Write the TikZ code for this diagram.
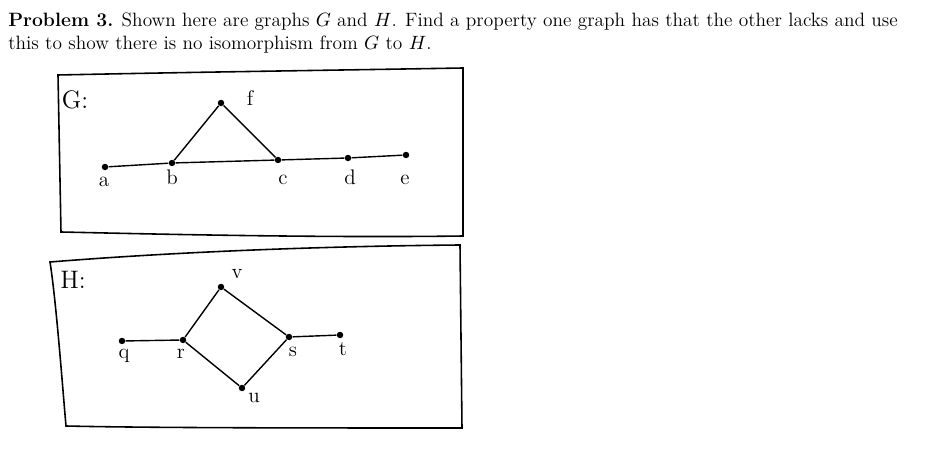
\documentclass[tikz,border=0pt]{standalone}
\begin{document}
\begin{tikzpicture}[x=0.02cm,y=-0.02cm,
 v/.style={circle,fill=black,inner sep=1.3pt},
 lab/.style={font=\large},
 edge/.style={line width=0.8pt},
 frame/.style={line width=0.9pt}]
\useasboundingbox (0,0) rectangle (938,455);
\node[anchor=west,inner sep=0] (t1) at (8,22) {\fontsize{11pt}{13pt}\selectfont\textbf{Problem 3.} Shown here are graphs $G$ and $H$. Find a property one graph has that the other lacks and use};
\node[anchor=west,inner sep=0] (t2) at (8,45) {\fontsize{11pt}{13pt}\selectfont this to show there is no isomorphism from $G$ to $H$.};
% G frame
\draw[frame] (58,75) .. controls (200,72) and (350,70) .. (463,68) -- (463,236) .. controls (320,238) and (150,234) .. (61,232) -- cycle;
\node[lab,font=\Large] (G) at (75,100) {G:};
\node[v] (a) at (105,167) {};
\node[v] (b) at (172,163) {};
\node[v] (f) at (221,103) {};
\node[v] (c) at (278,160) {};
\node[v] (d) at (348,158) {};
\node[v] (e) at (406,155) {};
\draw[edge] (a)--(b)--(c)--(d)--(e);
\draw[edge] (b)--(f)--(c);
\node[lab] (la) at (104,182) {a};
\node[lab] (lb) at (172,177) {b};
\node[lab] (lf) at (250,98) {f};
\node[lab] (lc) at (283,180) {c};
\node[lab] (ld) at (350,177) {d};
\node[lab] (le) at (405,180) {e};
% H frame
\draw[frame] (50,262) .. controls (200,250) and (350,246) .. (460,245) -- (462,428) .. controls (320,428) and (150,428) .. (66,426) .. controls (62,380) and (56,300) .. (50,262) -- cycle;
\node[lab,font=\Large] (H) at (73,280) {H:};
\node[v] (q) at (122,341) {};
\node[v] (r) at (183,340) {};
\node[v] (vv) at (221,287) {};
\node[v] (s) at (289,337) {};
\node[v] (u) at (242,388) {};
\node[v] (t) at (340,335) {};
\draw[edge] (q)--(r)--(vv)--(s)--(t);
\draw[edge] (r)--(u)--(s);
\node[lab] (lv) at (237,274) {v};
\node[lab] (lq) at (124,356) {q};
\node[lab] (lr) at (181,354) {r};
\node[lab] (ls) at (293,352) {s};
\node[lab] (lt) at (343,349) {t};
\node[lab] (lu) at (254,398) {u};
\end{tikzpicture}
\end{document}
